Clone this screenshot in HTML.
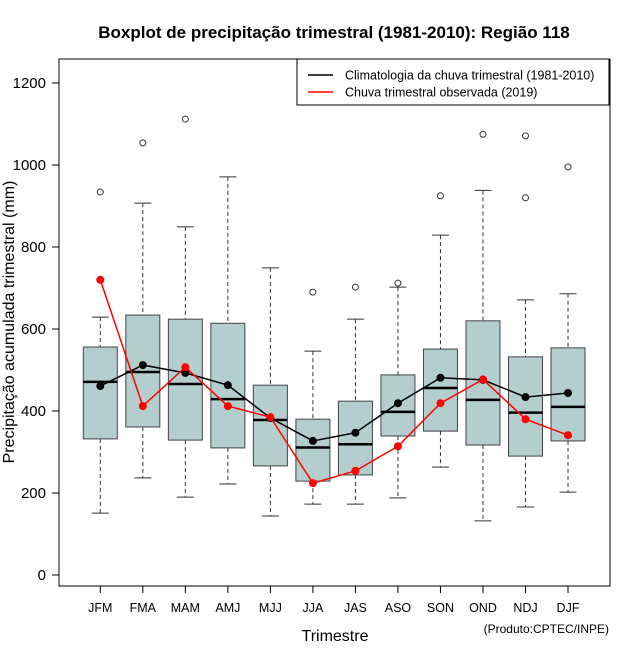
<!DOCTYPE html>
<html><head><meta charset="utf-8"><style>
body{margin:0;background:#fff}
svg{display:block;font-family:"Liberation Sans",sans-serif}
</style></head><body>
<svg id="chart" width="640" height="660" viewBox="0 0 640 660" xmlns="http://www.w3.org/2000/svg">
<text x="334" y="38" font-size="17" font-weight="bold" text-anchor="middle">Boxplot de precipitação trimestral (1981-2010): Região 118</text>
<text x="335" y="641" font-size="16" text-anchor="middle">Trimestre</text>
<text transform="translate(14,322) rotate(-90)" font-size="16" text-anchor="middle">Precipitação acumulada trimestral (mm)</text>
<text x="609" y="633" font-size="12" text-anchor="end">(Produto:CPTEC/INPE)</text>
<g id="plot"></g>
<g>
<rect x="297" y="59" width="312" height="46" fill="#fff" stroke="#000" stroke-width="1"/>
<line x1="308" y1="75" x2="333" y2="75" stroke="#000" stroke-width="1.5"/>
<text x="345" y="79.5" font-size="12.5">Climatologia da chuva trimestral (1981-2010)</text>
<line x1="308" y1="92" x2="333" y2="92" stroke="red" stroke-width="1.5"/>
<text x="345" y="96.5" font-size="12.5">Chuva trimestral observada (2019)</text>
</g>
</svg>
<script>
const categories=["JFM","FMA","MAM","AMJ","MJJ","JJA","JAS","ASO","SON","OND","NDJ","DJF"];
const whiskLow=[151,237,190,222,144,173,173,188,263,132,166,202];
const q1=[332,361,329,310,266,229,244,339,351,317,290,327];
const median=[471,495,466,429,378,311,319,398,456,427,396,410];
const q3=[556,634,624,614,463,380,424,488,551,620,532,554];
const whiskHigh=[629,907,849,971,749,546,624,702,829,938,671,686];
const outliers=[[934],[1054],[1112],[],[],[690],[702],[712],[925],[1075],[1071,920],[995]];
const climMean=[461,512,493,463,383,327,347,419,481,476,434,444];
const obs2019=[720,412,507,412,385,224,254,314,419,477,380,341];
const yTicks=[0,200,400,600,800,1000,1200];

const NS="http://www.w3.org/2000/svg";
const g=document.getElementById('plot');
const X=i=>100.3+i*42.52;
const Y=v=>575-v*0.41;
function el(tag,attrs,parent){const e=document.createElementNS(NS,tag);for(const k in attrs)e.setAttribute(k,attrs[k]);(parent||g).appendChild(e);return e;}

// frame
const fr=el('rect',{x:59,y:59,width:551,height:527,fill:'none',stroke:'#000','stroke-width':1});



yTicks.forEach(v=>{
  const t=el('line',{x1:52,x2:59,y1:Y(v),y2:Y(v),stroke:'#000'});
  
  
  const l=el('text',{x:46,y:Y(v)+5,'font-size':15,'text-anchor':'end'});
  l.textContent=v;
  
  
});

categories.forEach((c,i)=>{
  const x=X(i);
  const t=el('line',{x1:x,x2:x,y1:586,y2:593,stroke:'#000'});
  
  
  const l=el('text',{x:x,y:612,'font-size':12.5,'text-anchor':'middle'});
  l.textContent=c;
  
  
  const b=el('g',{});
  
  
  el('line',{x1:x,x2:x,y1:Y(whiskHigh[i]),y2:Y(q3[i]),stroke:'#333','stroke-dasharray':'4,3'},b);
  el('line',{x1:x,x2:x,y1:Y(q1[i]),y2:Y(whiskLow[i]),stroke:'#333','stroke-dasharray':'4,3'},b);
  el('line',{x1:x-8.5,x2:x+8.5,y1:Y(whiskHigh[i]),y2:Y(whiskHigh[i]),stroke:'#333'},b);
  el('line',{x1:x-8.5,x2:x+8.5,y1:Y(whiskLow[i]),y2:Y(whiskLow[i]),stroke:'#333'},b);
  el('rect',{x:x-17,y:Y(q3[i]),width:34,height:Y(q1[i])-Y(q3[i]),fill:'#b4cdcd',stroke:'#444'},b);
  el('line',{x1:x-17,x2:x+17,y1:Y(median[i]),y2:Y(median[i]),stroke:'#000','stroke-width':2.5},b);
  outliers[i].forEach(o=>{el('circle',{cx:x,cy:Y(o),r:3,fill:'none',stroke:'#333'},b);});
});

function series(vals,color,name){
  const s=el('g',{});
  
  
  el('polyline',{points:vals.map((v,i)=>X(i)+','+Y(v)).join(' '),fill:'none',stroke:color,'stroke-width':1.5},s);
  vals.forEach((v,i)=>{el('circle',{cx:X(i),cy:Y(v),r:4,fill:color},s);});
}
series(climMean,'#000','climatology-series');
series(obs2019,'#ff0000','observed-2019-series');
</script>
</body></html>
